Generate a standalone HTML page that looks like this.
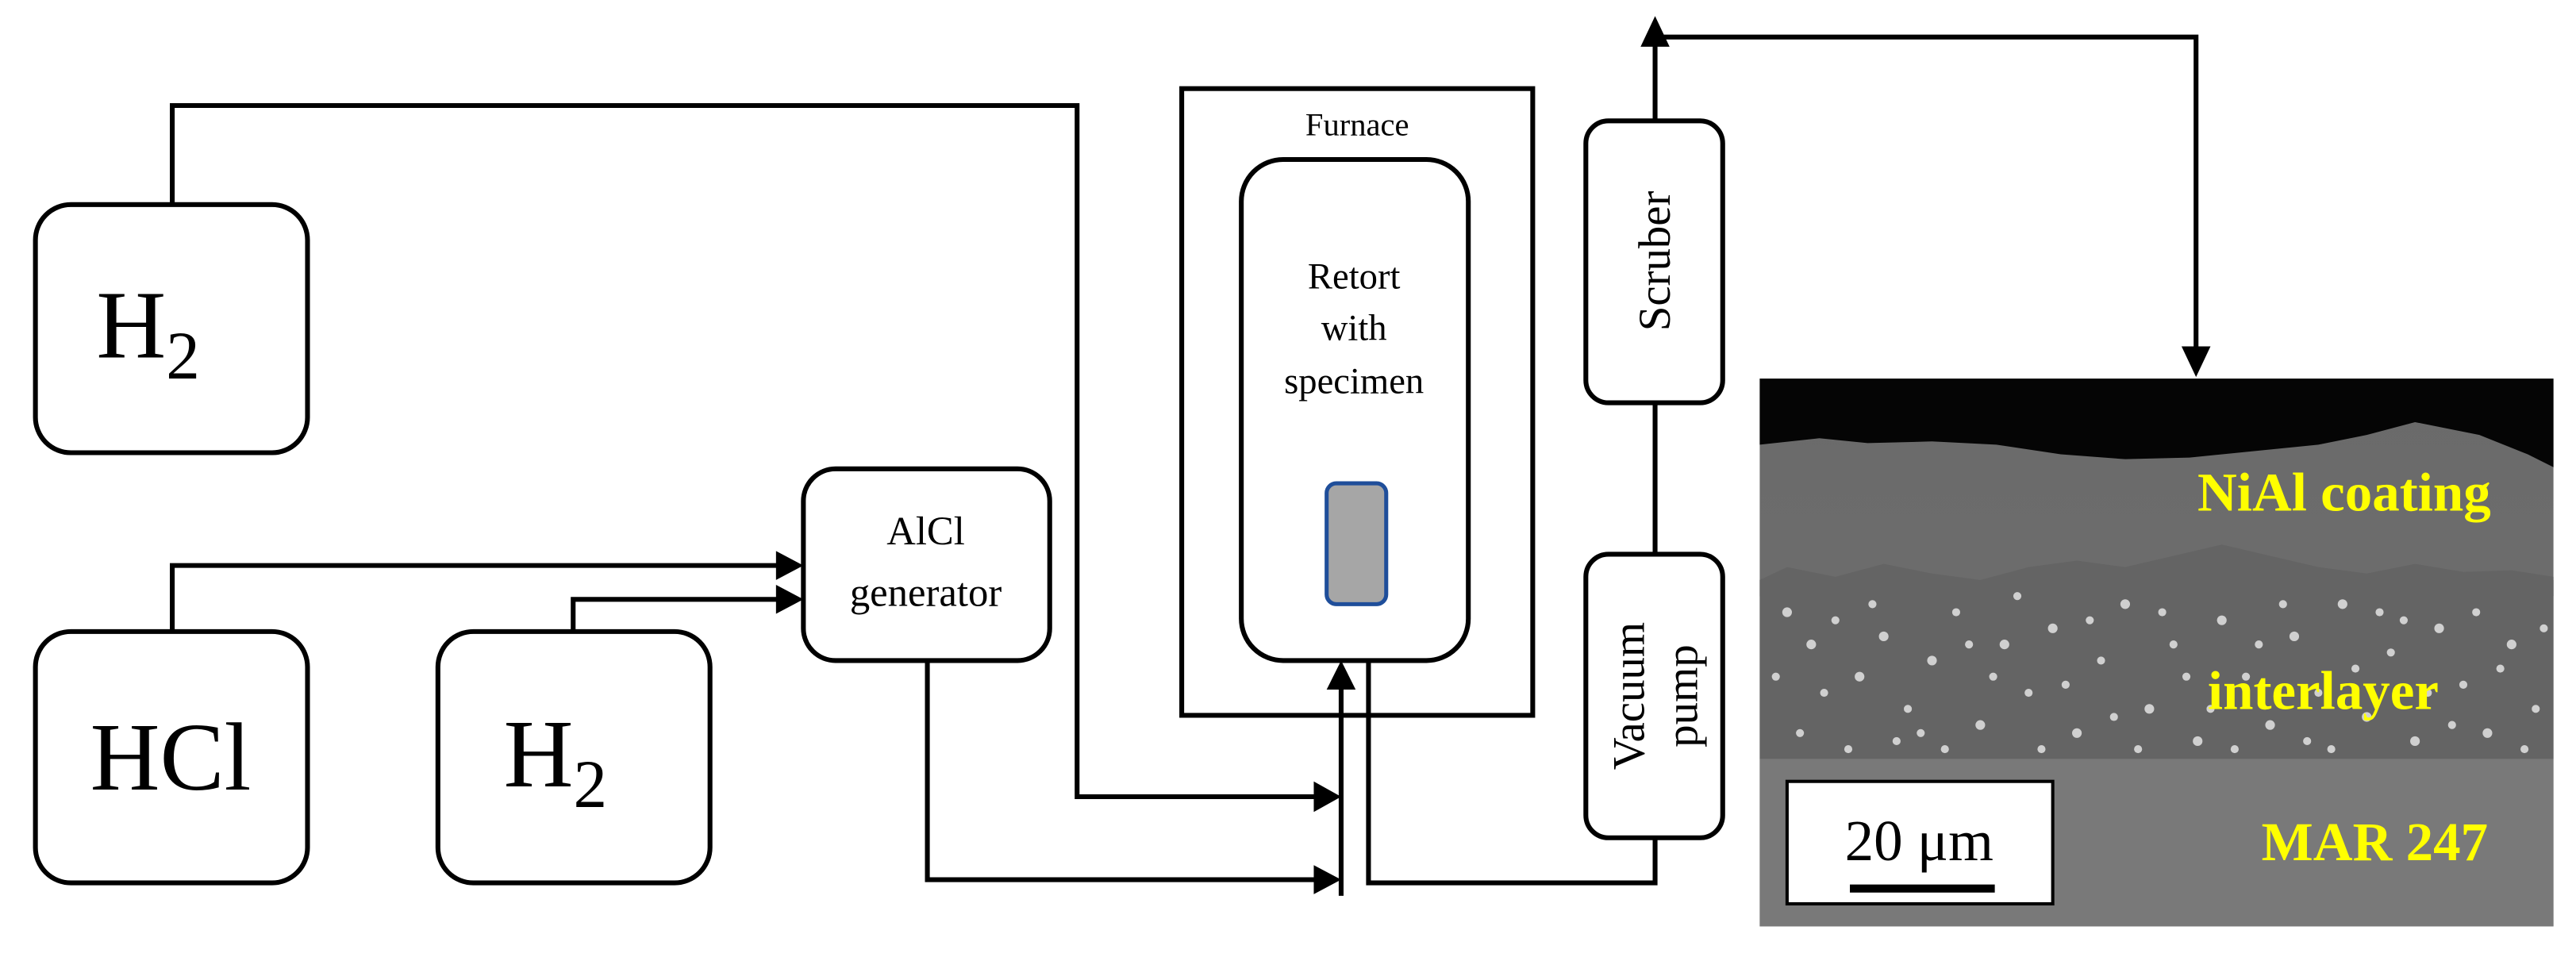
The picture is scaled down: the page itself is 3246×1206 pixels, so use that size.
<!DOCTYPE html>
<html><head><meta charset="utf-8"><style>
html,body{margin:0;padding:0;background:#fff;}
svg{display:block;}
text{font-family:"Liberation Serif",serif;}
</style></head><body>
<svg width="3246" height="1206" viewBox="0 0 1600 594" preserveAspectRatio="none" xmlns="http://www.w3.org/2000/svg">
<defs>
<linearGradient id="sem" x1="0" y1="0" x2="0" y2="1">
<stop offset="0" stop-color="#6a6a6a"/><stop offset="1" stop-color="#707070"/>
</linearGradient>
</defs>
<g fill="none" stroke="#000" stroke-width="3">
<rect x="22" y="127" width="169" height="154" rx="22"/>
<rect x="22" y="392" width="169" height="156" rx="22"/>
<rect x="272" y="392" width="169" height="156" rx="22"/>
<rect x="499" y="291" width="153" height="119" rx="20"/>
<rect x="734" y="55" width="218" height="389" rx="0"/>
<rect x="771" y="99" width="141" height="311" rx="26"/>
<rect x="985" y="75" width="85" height="175" rx="14"/>
<rect x="985" y="344" width="85" height="176" rx="14"/>
<polyline points="107,127 107,65.5 669,65.5 669,494.5 820,494.5"/>
<polyline points="107,392 107,351 485,351"/>
<polyline points="356,392 356,372 485,372"/>
<polyline points="576,410 576,546 820,546"/>
<polyline points="833,556 833,422"/>
<polyline points="850,410 850,548 1028,548 1028,520"/>
<polyline points="1028,250 1028,344"/>
<polyline points="1028,75 1028,23 1364,23 1364,218"/>
</g>
<g fill="#000">
<polygon points="499,351 482,342 482,360"/>
<polygon points="499,372 482,363 482,381"/>
<polygon points="833,494.5 816,485 816,504"/>
<polygon points="833,546 816,537 816,555"/>
<polygon points="833,410 824,428 842,428"/>
<polygon points="1028,10 1019,29 1037,29"/>
<polygon points="1364,234 1355,215 1373,215"/>
</g>
<rect x="824" y="300" width="37" height="75" rx="6" fill="#a6a6a6" stroke="#1f4e9a" stroke-width="2.5"/>
<text x="92" y="222" font-size="60" text-anchor="middle">H<tspan font-size="42" dy="13">2</tspan></text>
<text x="106" y="490" font-size="60" text-anchor="middle">HCl</text>
<text x="345" y="488" font-size="60" text-anchor="middle">H<tspan font-size="42" dy="13">2</tspan></text>
<text x="575" y="338" font-size="25" text-anchor="middle">AlCl</text>
<text x="575" y="376" font-size="25" text-anchor="middle">generator</text>
<text x="843" y="84" font-size="20" text-anchor="middle">Furnace</text>
<text x="841" y="179" font-size="23" text-anchor="middle">Retort</text>
<text x="841" y="211" font-size="23" text-anchor="middle">with</text>
<text x="841" y="244" font-size="23" text-anchor="middle">specimen</text>
<text transform="translate(1037,162) rotate(-90)" font-size="28" text-anchor="middle">Scruber</text>
<text transform="translate(1021,432) rotate(-90)" font-size="28" text-anchor="middle">Vacuum</text>
<text transform="translate(1054,432) rotate(-90)" font-size="28" text-anchor="middle">pump</text>
<rect x="1093" y="235" width="493" height="340" fill="url(#sem)"/>
<rect x="1093" y="471" width="493" height="104" fill="#797979"/>
<rect x="1093" y="360" width="493" height="111" fill="#646464"/>
<path d="M1093,235 H1586 V290 L1570,282 L1540,270 L1500,262 L1470,270 L1440,276 L1400,280 L1360,284 L1320,285 L1280,282 L1240,276 L1200,274 L1160,275 L1130,272 L1093,276 Z" fill="#050505"/>
<path d="M1093,360 L1110,352 L1140,358 L1170,350 L1200,356 L1230,360 L1260,352 L1290,348 L1320,352 L1350,345 L1380,338 L1410,345 L1440,352 L1470,356 L1500,350 L1530,355 L1560,354 L1586,358 L1586,370 L1093,370 Z" fill="#646464"/>
<g fill="#dcdcdc" opacity="0.9">
<circle cx="1110" cy="380" r="3"/><circle cx="1125" cy="400" r="3"/><circle cx="1140" cy="385" r="2.5"/><circle cx="1155" cy="420" r="3"/><circle cx="1170" cy="395" r="3"/><circle cx="1185" cy="440" r="2.5"/><circle cx="1200" cy="410" r="3"/><circle cx="1215" cy="380" r="2.5"/><circle cx="1230" cy="450" r="3"/><circle cx="1245" cy="400" r="3"/><circle cx="1260" cy="430" r="2.5"/><circle cx="1275" cy="390" r="3"/><circle cx="1290" cy="455" r="3"/><circle cx="1305" cy="410" r="2.5"/><circle cx="1320" cy="375" r="3"/><circle cx="1335" cy="440" r="3"/><circle cx="1350" cy="400" r="2.5"/><circle cx="1365" cy="460" r="3"/><circle cx="1380" cy="385" r="3"/><circle cx="1395" cy="420" r="2.5"/><circle cx="1410" cy="450" r="3"/><circle cx="1425" cy="395" r="3"/><circle cx="1440" cy="430" r="2.5"/><circle cx="1455" cy="375" r="3"/><circle cx="1470" cy="445" r="3"/><circle cx="1485" cy="405" r="2.5"/><circle cx="1500" cy="460" r="3"/><circle cx="1515" cy="390" r="3"/><circle cx="1530" cy="425" r="2.5"/><circle cx="1545" cy="455" r="3"/><circle cx="1560" cy="400" r="3"/><circle cx="1575" cy="440" r="2.5"/>
<circle cx="1118" cy="455" r="2.5"/><circle cx="1148" cy="465" r="2.5"/><circle cx="1178" cy="460" r="2.5"/><circle cx="1208" cy="465" r="2.5"/><circle cx="1238" cy="420" r="2.5"/><circle cx="1268" cy="465" r="2.5"/><circle cx="1298" cy="385" r="2.5"/><circle cx="1328" cy="465" r="2.5"/><circle cx="1358" cy="420" r="2.5"/><circle cx="1388" cy="465" r="2.5"/><circle cx="1418" cy="375" r="2.5"/><circle cx="1448" cy="465" r="2.5"/><circle cx="1478" cy="380" r="2.5"/><circle cx="1508" cy="430" r="2.5"/><circle cx="1538" cy="380" r="2.5"/><circle cx="1568" cy="465" r="2.5"/>
<circle cx="1103" cy="420" r="2.5"/><circle cx="1133" cy="430" r="2.5"/><circle cx="1163" cy="375" r="2.5"/><circle cx="1193" cy="455" r="2.5"/><circle cx="1223" cy="400" r="2.5"/><circle cx="1253" cy="370" r="2.5"/><circle cx="1283" cy="425" r="2.5"/><circle cx="1313" cy="445" r="2.5"/><circle cx="1343" cy="380" r="2.5"/><circle cx="1373" cy="440" r="2.5"/><circle cx="1403" cy="400" r="2.5"/><circle cx="1433" cy="460" r="2.5"/><circle cx="1463" cy="415" r="2.5"/><circle cx="1493" cy="385" r="2.5"/><circle cx="1523" cy="450" r="2.5"/><circle cx="1553" cy="415" r="2.5"/><circle cx="1580" cy="390" r="2.5"/>
</g>
<text x="1456" y="317" font-size="34" font-weight="bold" fill="#ffff00" text-anchor="middle">NiAl coating</text>
<text x="1443" y="440" font-size="34" font-weight="bold" fill="#ffff00" text-anchor="middle">interlayer</text>
<text x="1475" y="534" font-size="34" font-weight="bold" fill="#ffff00" text-anchor="middle">MAR 247</text>
<rect x="1110" y="485" width="165" height="76" fill="#fff" stroke="#000" stroke-width="2"/>
<text x="1192" y="534" font-size="36" text-anchor="middle">20 μm</text>
<rect x="1149" y="549" width="90" height="5" fill="#000"/>
</svg>
</body></html>
